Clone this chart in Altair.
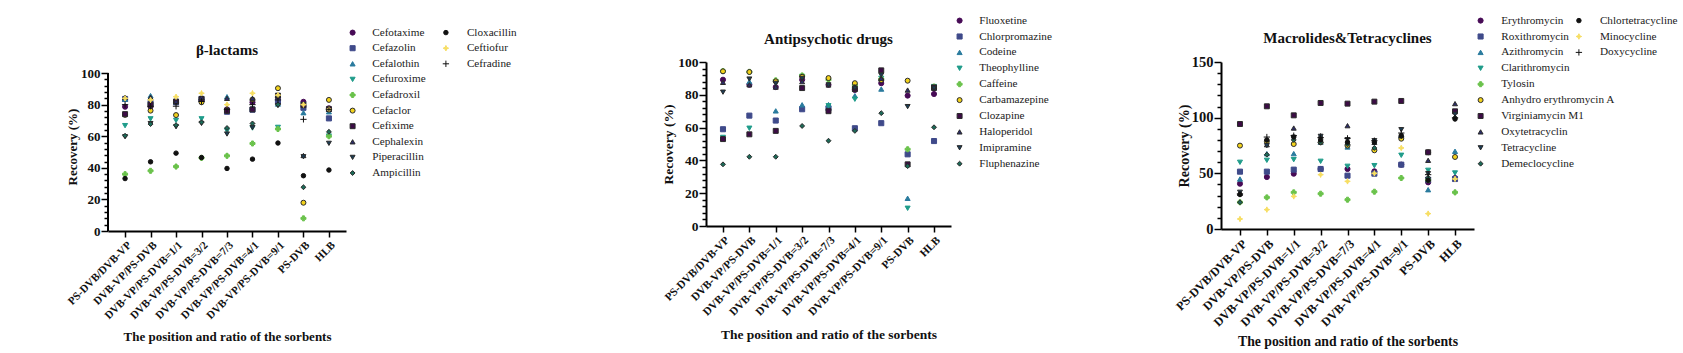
import altair as alt
import pandas as pd

SERIF = "Liberation Serif"

SORBENTS = ["PS-DVB/DVB-VP", "DVB-VP/PS-DVB", "DVB-VP/PS-DVB=1/1", "DVB-VP/PS-DVB=3/2",
            "DVB-VP/PS-DVB=7/3", "DVB-VP/PS-DVB=4/1", "DVB-VP/PS-DVB=9/1", "PS-DVB", "HLB"]

# ---------------- β-lactams ----------------
BL_MAIN = ["Cefotaxime", "Cefazolin", "Cefalothin", "Cefuroxime", "Cefadroxil",
           "Cefaclor", "Cefixime", "Cephalexin", "Piperacillin", "Ampicillin"]
BL_EXTRA = ["Cloxacillin", "Ceftiofur", "Cefradine"]
cefotaxime = [78.7, 78.7, 81.5, 83.0, 77.0, 81.5, 84.7, 81.8, 77.7]
cefazolin = [83.6, 81.0, 81.5, 83.6, 75.5, 76.8, 82.0, 78.0, 71.3]
cefalothin = [83.5, 85.7, 82.0, 84.5, 85.0, 78.0, 80.4, 74.9, 75.5]
cefuroxime = [66.7, 71.0, 70.0, 71.0, 63.5, 65.2, 65.6, 80.0, 60.1]
cefadroxil = [36.0, 38.1, 40.8, 46.3, 47.6, 55.4, 64.6, 8.0, 60.0]
cefaclor = [73.5, 76.2, 73.4, 81.5, 76.0, 83.2, 90.4, 17.9, 83.0]
cefixime = [74.0, 80.0, 82.0, 83.6, 76.2, 77.0, 85.7, 79.7, 77.2]
cephalexin = [84.7, 84.7, 82.0, 84.7, 84.0, 84.0, 86.0, 47.8, 77.0]
piperacillin = [59.7, 68.0, 66.0, 68.1, 61.4, 65.5, 79.4, 47.0, 55.5]
ampicillin = [60.3, 67.7, 67.0, 68.8, 65.2, 68.1, 80.0, 27.7, 62.8]
cloxacillin = [33.2, 43.8, 49.3, 46.5, 39.6, 45.5, 55.7, 35.0, 38.6]
ceftiofur = [84.0, 83.0, 85.0, 87.2, 80.0, 87.2, 86.0, 80.0, 77.0]
cefradine = [80.0, 79.0, 79.0, 82.0, 77.0, 80.0, 83.0, 70.7, 77.0]

# ---------------- Antipsychotic drugs ----------------
AP_MAIN = ["Fluoxetine", "Chlorpromazine", "Codeine", "Theophylline", "Caffeine",
           "Carbamazepine", "Clozapine", "Haloperidol", "Imipramine", "Fluphenazine"]
fluoxetine = [89.2, 86.1, 84.7, 89.2, 86.1, 83.0, 87.1, 79.5, 80.5]
chlorpromazine = [59.0, 67.3, 64.3, 71.2, 71.8, 59.6, 62.7, 43.7, 51.8]
codeine = [53.5, 88.0, 70.2, 73.9, 74.0, 79.4, 83.5, 16.9, 84.5]
theophylline = [54.0, 59.6, 87.0, 91.2, 73.3, 77.3, 90.0, 10.8, 85.0]
caffeine = [94.5, 94.0, 88.8, 91.8, 89.2, 86.0, 89.6, 46.8, 85.0]
carbamazepine = [94.3, 93.9, 88.2, 91.0, 90.2, 87.1, 89.0, 88.6, 84.0]
clozapine = [53.0, 55.9, 58.0, 84.1, 70.0, 83.5, 94.9, 37.6, 84.5]
haloperidol = [87.6, 86.1, 84.7, 88.0, 86.0, 85.0, 90.0, 82.9, 84.0]
imipramine = [81.6, 89.6, 87.0, 90.0, 86.0, 84.0, 92.0, 72.8, 84.0]
fluphenazine = [37.6, 42.2, 42.2, 61.0, 52.0, 58.0, 68.8, 36.5, 60.2]

# ---------------- Macrolides & Tetracyclines ----------------
MT_MAIN = ["Erythromycin", "Roxithromycin", "Azithromycin", "Clarithromycin", "Tylosin",
           "Anhydro erythromycin A", "Virginiamycin M1", "Oxytetracyclin", "Tetracycline",
           "Demeclocycline"]
MT_EXTRA = ["Chlortetracycline", "Minocycline", "Doxycycline"]
erythromycin = [40.7, 46.7, 49.7, 53.9, 53.9, 51.8, 57.8, 41.9, 45.8]
roxithromycin = [51.5, 51.5, 53.3, 53.9, 47.9, 49.7, 57.8, 44.3, 44.9]
azithromycin = [44.9, 67.7, 67.7, 78.0, 73.7, 72.8, 84.0, 35.3, 69.8]
clarithromycin = [59.9, 61.7, 62.3, 60.8, 56.3, 56.9, 66.2, 52.7, 50.3]
tylosin = [24.0, 28.4, 32.9, 31.7, 26.3, 33.5, 45.8, 44.0, 32.9]
anhydro_ery = [74.9, 78.7, 76.3, 77.8, 74.9, 70.7, 81.1, 68.9, 64.7]
virginiamycin = [94.3, 110.2, 102.1, 113.2, 112.6, 114.4, 115.0, 68.9, 105.7]
oxytetracyclin = [32.0, 75.7, 90.7, 83.8, 92.8, 77.8, 83.8, 61.7, 112.6]
tetracycline = [33.0, 74.9, 82.3, 83.2, 80.2, 79.3, 89.2, 49.7, 103.0]
demeclocycline = [24.0, 66.8, 80.0, 77.8, 76.0, 72.8, 83.2, 46.0, 100.0]
chlortetracycline = [31.0, 80.0, 82.6, 80.0, 78.0, 78.0, 84.0, 43.7, 98.8]
minocycline = [9.0, 17.4, 29.3, 48.8, 42.8, 50.0, 72.8, 13.8, 45.0]
doxycycline = [31.5, 82.6, 83.8, 82.0, 81.4, 79.3, 86.2, 48.8, 99.7]

# ---------------- marker styles ----------------
STAR = "M0,-1L0.3,-0.3L1,0L0.3,0.3L0,1L-0.3,0.3L-1,0L-0.3,-0.3Z"
PLUS = "M-1,0L1,0M0,-1L0,1"
MAIN_SHAPES = ["circle", "square", "triangle-up", "triangle-down", "cross",
               "circle", "square", "triangle-up", "triangle-down", "diamond"]
MAIN_FILLS = ["#470b56", "#3f4a8a", "#2a7b9e", "#1f9c8a", "#6ac24b",
              "#f2d21b", "#3c0c45", "#2c2d6a", "#1b3d56", "#1c6a58"]
MAIN_STROKES = ["#470b56", "#3f4a8a", "#2a7b9e", "#1f9c8a", "#6ac24b",
                "#2a2a2a", "#2a2a2a", "#2a2a2a", "#2a2a2a", "#2a2a2a"]
MAIN_SIZES = [26, 24, 22, 22, 26, 48, 44, 46, 46, 40]
EXTRA_SHAPES = ["circle", STAR, PLUS]
EXTRA_FILLS = ["#111111", "#f7de61", "#111111"]
EXTRA_STROKES = ["#111111", "#f7de61", "#111111"]
EXTRA_SIZES = [20, 40, 34]


def long_table(names, series, field):
    rows = []
    for name, vals in zip(names, series):
        for s, v in zip(SORBENTS, vals):
            rows.append({"sorbent": s, field: name, "value": v})
    return pd.DataFrame(rows)


def make_legend(pos, pad, row_pad):
    return alt.Legend(title=None, orient="none", legendX=pos[0], legendY=pos[1],
                      direction="vertical", padding=pad, rowPadding=row_pad,
                      labelOffset=pos[2], labelFont=SERIF, labelFontSize=11.2,
                      labelColor="#1a1a1a", symbolStrokeWidth=1, labelLimit=300)


def build_panel(title, title_offset, main_names, main_series, extra_names, extra_series,
                y_dom_max, y_axis_max, major, minor, width, height, x_pad, fonts,
                leg1, leg2, axis_rule, row_pad, leg_pad):
    ylab_fs, ytitle_fs, ytitle_pad, xlab_fs, xtitle_fs, xtitle_pad = fonts
    yscale = alt.Scale(domain=[0, y_dom_max], nice=False, zero=True)
    xscale = alt.Scale(type="point", padding=x_pad, domain=SORBENTS)
    yaxis = alt.Axis(
        title="Recovery (%)", titleFont=SERIF, titleFontSize=ytitle_fs, titleFontWeight="bold",
        titleColor="#111111", titlePadding=ytitle_pad,
        values=list(range(0, y_axis_max + 1, minor)),
        labelExpr=f"datum.value % {major} === 0 ? datum.label : ''",
        labelOverlap=False, labelFont=SERIF, labelFontSize=ylab_fs, labelFontWeight="bold",
        labelColor="#111111", labelPadding=1,
        tickSize={"condition": {"test": f"datum.value % {major} === 0", "value": 7}, "value": 4},
        tickWidth=1.5, tickColor="black",
        domain=not axis_rule, domainColor="black", domainWidth=2, grid=False)
    xaxis = alt.Axis(
        title="The position and ratio of the sorbents", titleFont=SERIF, titleFontSize=xtitle_fs,
        titleFontWeight="bold", titleColor="#111111", titlePadding=xtitle_pad,
        labelAngle=-45, labelAlign="right", labelBaseline="top", labelFont=SERIF,
        labelFontSize=xlab_fs, labelFontWeight="bold", labelColor="#111111", labelPadding=2,
        tickSize=6, tickWidth=1.5, tickColor="black", domainColor="black", domainWidth=2,
        grid=False)

    main_df = long_table(main_names, main_series, "drug")
    lg1 = make_legend(leg1, leg_pad, row_pad)
    main = alt.Chart(main_df).mark_point(filled=True, opacity=1, strokeWidth=1).encode(
        x=alt.X("sorbent:N", scale=xscale, axis=xaxis),
        y=alt.Y("value:Q", scale=yscale, axis=yaxis),
        color=alt.Color("drug:N", scale=alt.Scale(domain=main_names, range=MAIN_FILLS), legend=lg1),
        shape=alt.Shape("drug:N", scale=alt.Scale(domain=main_names, range=MAIN_SHAPES), legend=lg1),
        stroke=alt.Stroke("drug:N", scale=alt.Scale(domain=main_names, range=MAIN_STROKES), legend=lg1),
        size=alt.Size("drug:N", scale=alt.Scale(domain=main_names, range=MAIN_SIZES), legend=lg1),
    )
    layers = [main]
    if extra_names:
        extra_df = long_table(extra_names, extra_series, "drug2")
        lg2 = make_legend(leg2, leg_pad, row_pad)
        extra = alt.Chart(extra_df).mark_point(filled=True, opacity=1, strokeWidth=1).encode(
            x=alt.X("sorbent:N", scale=xscale, axis=xaxis),
            y=alt.Y("value:Q", scale=yscale, axis=yaxis),
            color=alt.Color("drug2:N", scale=alt.Scale(domain=extra_names, range=EXTRA_FILLS), legend=lg2),
            shape=alt.Shape("drug2:N", scale=alt.Scale(domain=extra_names, range=EXTRA_SHAPES), legend=lg2),
            stroke=alt.Stroke("drug2:N", scale=alt.Scale(domain=extra_names, range=EXTRA_STROKES), legend=lg2),
            size=alt.Size("drug2:N", scale=alt.Scale(domain=extra_names, range=EXTRA_SIZES), legend=lg2),
        )
        layers.append(extra)
    if axis_rule:
        rule_df = pd.DataFrame({"value": [0], "hi": [y_axis_max]})
        rule = alt.Chart(rule_df).mark_rule(color="black", strokeWidth=2).encode(
            y=alt.Y("value:Q", scale=yscale, axis=yaxis), y2="hi:Q", x=alt.value(0))
        layers.append(rule)
    return alt.layer(*layers).properties(
        width=width, height=height,
        title=alt.TitleParams(title, font=SERIF, fontSize=15, fontWeight="bold", color="#111111",
                              anchor="middle", frame="group", baseline="middle",
                              offset=title_offset),
    ).resolve_scale(color="independent", shape="independent", stroke="independent",
                    size="independent")


LEG_TOP = -47

p1 = build_panel("β-lactams", -50, BL_MAIN,
                 [cefotaxime, cefazolin, cefalothin, cefuroxime, cefadroxil, cefaclor, cefixime,
                  cephalexin, piperacillin, ampicillin],
                 BL_EXTRA, [cloxacillin, ceftiofur, cefradine],
                 107.0, 100, 20, 4, 238, 169, 0.67, (13, 13, 1, 11, 13, 10),
                 (227, LEG_TOP, 14), (320.3, LEG_TOP, 15.4), True, 3.6, 12)
p2 = build_panel("Antipsychotic drugs", -39, AP_MAIN,
                 [fluoxetine, chlorpromazine, codeine, theophylline, caffeine, carbamazepine,
                  clozapine, haloperidol, imipramine, fluphenazine],
                 [], [],
                 100, 100, 20, 4, 245, 164, 0.644, (13.5, 13.5, 2, 11.2, 13.5, 10),
                 (248, LEG_TOP, 14), None, False, 3.9, 0)
p3 = build_panel("Macrolides&Tetracyclines", -38, MT_MAIN,
                 [erythromycin, roxithromycin, azithromycin, clarithromycin, tylosin, anhydro_ery,
                  virginiamycin, oxytetracyclin, tetracycline, demeclocycline],
                 MT_EXTRA, [chlortetracycline, minocycline, doxycycline],
                 150, 150, 50, 10, 253, 167, 0.706, (14.5, 14, 0, 12.3, 13.75, 6),
                 (254, LEG_TOP, 15), (352.3, LEG_TOP, 15.4), False, 3.9, 0)

RES = dict(color="independent", shape="independent", stroke="independent",
           size="independent", x="independent", y="independent")

inner = alt.hconcat(p1, p2, spacing=131).resolve_scale(**RES)
chart = alt.hconcat(inner, p3, spacing=121).resolve_scale(**RES).properties(
    padding={"left": 65, "top": 15, "right": 0, "bottom": 0},
    background="white",
).configure_view(stroke=None)

chart.save("out.html", embed_options={"renderer": "svg", "actions": False})
